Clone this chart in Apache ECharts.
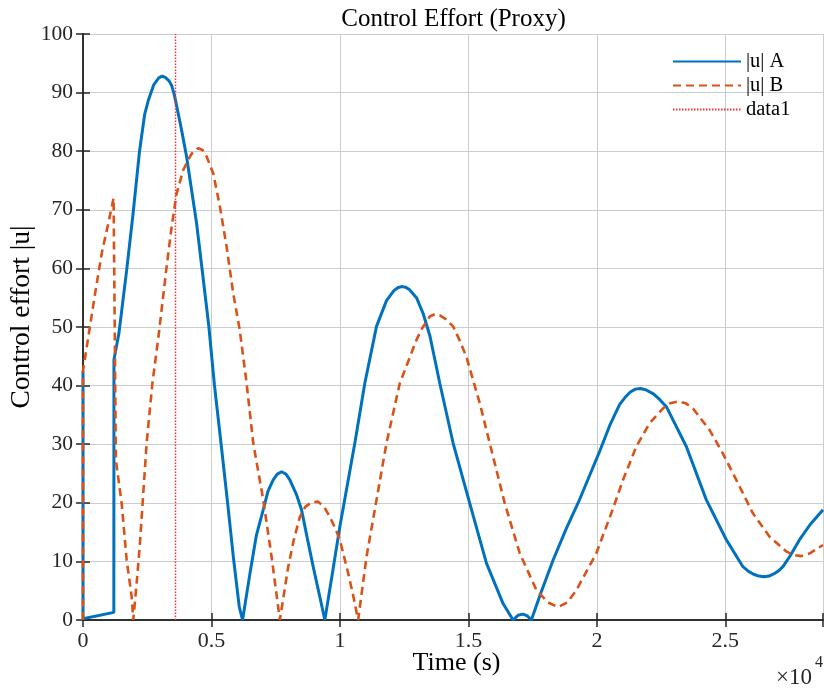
<!DOCTYPE html>
<html>
<head>
<meta charset="utf-8">
<script src="https://cdn.jsdelivr.net/npm/echarts@6/dist/echarts.min.js"></script>
<style>
html,body{margin:0;padding:0;background:#fff;}
#chart{width:824px;height:688px;}
</style>
</head>
<body>
<div id="chart"></div>
<script>
// ---- data (time in seconds, control effort |u|) ----
const timeA = [0, 0, 1200, 1205, 1400, 1700, 1950, 2200, 2400, 2550, 2750, 2950, 3080, 3200, 3350, 3450, 3550, 3650, 3750, 3850, 4030, 4420, 4650, 4900, 5115, 5370, 5630, 5850, 6080, 6210, 6500, 6750, 7013, 7200, 7402, 7560, 7728, 7900, 8050, 8300, 8506, 8750, 8958, 9200, 9412, 9700, 9996, 10580, 10968, 11423, 11812, 12100, 12250, 12396, 12550, 12700, 12979, 13237, 13500, 13886, 14404, 15052, 15701, 16349, 16737, 16930, 17126, 17290, 17450, 17800, 18293, 18800, 19331, 20109, 20500, 20887, 21100, 21300, 21500, 21692, 21900, 22200, 22450, 22703, 23481, 24259, 25037, 25683, 25900, 26100, 26300, 26500, 26700, 26900, 27100, 27240, 27500, 27888, 28300, 28800];
const valueA = [42.5, 0.2, 1.3, 44.4, 49.0, 59.7, 69.4, 80.0, 86.3, 88.8, 91.3, 92.5, 92.8, 92.6, 92.0, 91.2, 89.7, 87.6, 85.5, 83.3, 79.1, 67.7, 59.3, 50.0, 40.1, 30.2, 19.9, 10.8, 2.3, 0.0, 8.0, 14.5, 18.8, 22.0, 23.9, 24.9, 25.3, 24.9, 23.9, 21.5, 18.8, 13.5, 9.1, 4.3, 0.0, 7.8, 15.9, 30.2, 40.4, 50.1, 54.5, 56.2, 56.7, 56.9, 56.8, 56.4, 55.0, 52.3, 48.5, 40.4, 30.2, 19.9, 9.7, 2.8, 0.0, 0.8, 1.0, 0.7, 0.0, 4.4, 10.2, 15.5, 20.6, 28.8, 33.2, 36.8, 38.0, 38.9, 39.4, 39.5, 39.3, 38.6, 37.6, 36.4, 29.6, 20.5, 13.7, 9.1, 8.3, 7.8, 7.5, 7.4, 7.5, 7.9, 8.5, 9.1, 10.8, 13.7, 16.3, 18.8];

const timeB = [0, 0, 200, 470, 730, 985, 1190, 1280, 1505, 1700, 1894, 1957, 2088, 2217, 2345, 2477, 2700, 2930, 3255, 3450, 3644, 3903, 4162, 4300, 4486, 4650, 4810, 5070, 5330, 5589, 5848, 6100, 6367, 6626, 7015, 7339, 7662, 7987, 8200, 8440, 8650, 8900, 9153, 9400, 9607, 9800, 9996, 10319, 10500, 10708, 11034, 11423, 11812, 12330, 12979, 13200, 13497, 13700, 13886, 14100, 14404, 14650, 14923, 15442, 15896, 16414, 16997, 17646, 18100, 18487, 18850, 19201, 19979, 20627, 21016, 21535, 22054, 22572, 22850, 23155, 23450, 23739, 24387, 24906, 25425, 26073, 26721, 27370, 27650, 27954, 28300, 28800];
const valueB = [0.0, 42.5, 48.1, 55.7, 62.6, 67.7, 72.0, 27.3, 19.9, 10.2, 4.0, 0.0, 6.3, 13.1, 21.6, 30.2, 40.4, 48.1, 60.3, 67.1, 72.8, 76.8, 79.1, 80.0, 80.5, 80.2, 79.1, 76.2, 70.5, 63.7, 55.7, 49.5, 40.4, 30.2, 20.5, 10.8, 0.0, 9.1, 13.6, 17.6, 19.3, 20.1, 20.2, 19.2, 17.6, 15.8, 13.7, 8.0, 4.5, 0.0, 10.8, 20.5, 30.2, 40.4, 47.8, 49.8, 51.8, 52.2, 52.0, 51.4, 50.1, 47.8, 44.9, 37.0, 29.0, 19.9, 11.4, 5.1, 3.0, 2.2, 3.0, 5.1, 11.4, 19.0, 23.9, 29.6, 33.6, 36.1, 37.0, 37.3, 37.0, 36.1, 32.4, 28.4, 23.9, 18.2, 14.2, 11.7, 11.1, 10.9, 11.4, 12.8];

const markerTime = [3600, 3600];
const markerValue = [0, 100];

const seriesNames = ['|u| A', '|u| B', 'data1'];
const xTickLabels = ['0', '0.5', '1', '1.5', '2', '2.5'];
const xMax = 28800;

function zip(t, v) { return t.map((x, i) => [x, v[i]]); }

const serif = '"Liberation Serif", "Times New Roman", serif';
const axisColor = '#262626';
const gridColor = '#cdcdcd';

const chart = echarts.init(document.getElementById('chart'), null, { renderer: 'canvas' });

const commonX = {
  type: 'value', min: 0, max: xMax, interval: 5000,
  axisLine: { show: true, lineStyle: { color: axisColor, width: 1.5 } },
  axisTick: { show: true, inside: true, length: 7, lineStyle: { color: axisColor, width: 1.5 } }
};
const commonY = {
  type: 'value', min: 0, max: 100, interval: 10,
  axisLine: { show: true, lineStyle: { color: axisColor, width: 1.5 } },
  axisTick: { show: true, inside: true, length: 7, lineStyle: { color: axisColor, width: 1.5 } }
};

chart.setOption({
  animation: false,
  backgroundColor: '#ffffff',
  grid: { left: 83, right: 1, top: 34, bottom: 68, containLabel: false, outerBoundsMode: 'none' },
  legend: {
    orient: 'vertical', left: 667, top: 46, itemWidth: 68, itemHeight: 14, itemGap: 3,
    data: seriesNames,
    itemStyle: { opacity: 0 },
    textStyle: { fontFamily: serif, fontSize: 20.5, color: '#000' }
  },
  xAxis: [
    Object.assign({}, commonX, {
      position: 'bottom',
      axisLabel: {
        fontFamily: serif, fontSize: 22, color: '#262626', margin: 10,
        formatter: function (v) { const i = Math.round(v / 5000); return (Math.abs(v - i * 5000) < 1 && xTickLabels[i] !== undefined) ? xTickLabels[i] : ''; }
      },
      splitLine: { show: true, lineStyle: { color: gridColor, width: 1 } }
    }),
    Object.assign({}, commonX, {
      position: 'top', axisLabel: { show: false }, splitLine: { show: false }
    })
  ],
  yAxis: [
    Object.assign({}, commonY, {
      position: 'left',
      axisLabel: { fontFamily: serif, fontSize: 21.5, color: '#262626', margin: 10 },
      splitLine: { show: true, lineStyle: { color: gridColor, width: 1 } }
    }),
    Object.assign({}, commonY, {
      position: 'right', axisLabel: { show: false }, splitLine: { show: false }
    })
  ],
  series: [
    {
      name: seriesNames[0], type: 'line', data: zip(timeA, valueA),
      symbol: 'none', smooth: false, clip: true,
      lineStyle: { color: '#0072BD', width: 3 }, itemStyle: { color: '#0072BD' }
    },
    {
      name: seriesNames[1], type: 'line', data: zip(timeB, valueB),
      symbol: 'none', smooth: false, clip: true,
      lineStyle: { color: '#D95319', width: 2.6, type: [8, 5] }, itemStyle: { color: '#D95319' }
    },
    {
      name: seriesNames[2], type: 'line', data: zip(markerTime, markerValue),
      symbol: 'none', clip: true,
      lineStyle: { color: '#ff3030', width: 1.5, type: [1.5, 1.5] }, itemStyle: { color: '#ff3030' }
    }
  ],
  graphic: [
    {
      type: 'text', x: 453.5, y: 19, z: 100,
      style: { text: 'Control Effort (Proxy)', fontFamily: serif, fontSize: 25, fill: '#000', align: 'center', verticalAlign: 'middle' }
    },
    {
      type: 'text', x: 456.5, y: 663, z: 100,
      style: { text: 'Time (s)', fontFamily: serif, fontSize: 26, fill: '#000', align: 'center', verticalAlign: 'middle' }
    },
    {
      type: 'text', x: 22, y: 317, rotation: Math.PI / 2, z: 100,
      style: { text: 'Control effort |u|', fontFamily: serif, fontSize: 27.5, fill: '#000', align: 'center', verticalAlign: 'middle' }
    },
    {
      type: 'text', left: 776, top: 666, z: 100,
      style: { text: '×10', fontFamily: serif, fontSize: 23, fill: '#262626' }
    },
    {
      type: 'text', left: 815, top: 655, z: 100,
      style: { text: '4', fontFamily: serif, fontSize: 16, fill: '#262626' }
    }
  ]
});
</script>
</body>
</html>
